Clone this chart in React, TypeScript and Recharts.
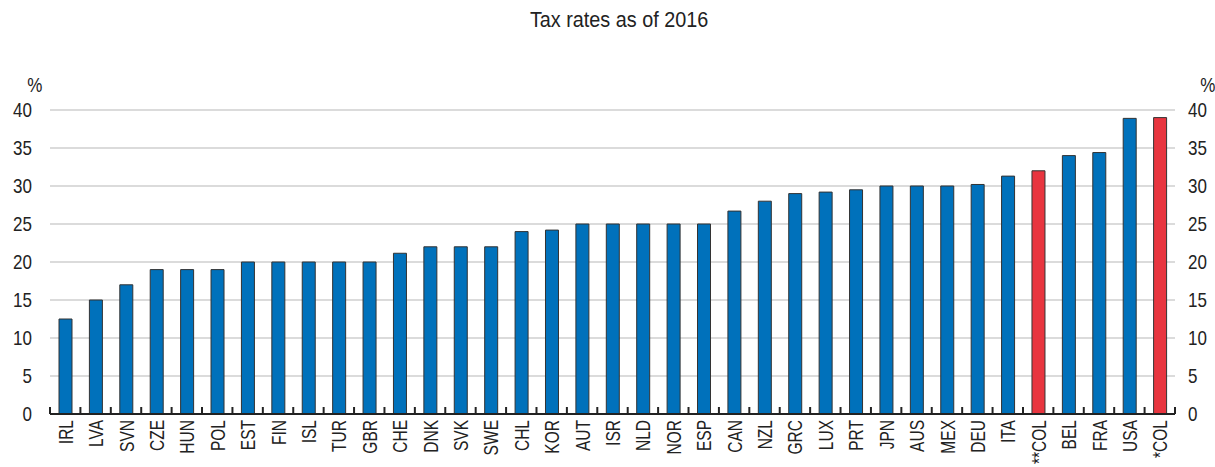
import React from "react";
import { BarChart, Bar, XAxis, YAxis, CartesianGrid, Cell } from "recharts";

const categories = ["IRL","LVA","SVN","CZE","HUN","POL","EST","FIN","ISL","TUR","GBR","CHE","DNK","SVK","SWE","CHL","KOR","AUT","ISR","NLD","NOR","ESP","CAN","NZL","GRC","LUX","PRT","JPN","AUS","MEX","DEU","ITA","**COL","BEL","FRA","USA","*COL"];
const values = [12.5,15,17,19,19,19,20,20,20,20,20,21.15,22,22,22,24,24.2,25,25,25,25,25,26.7,28,29,29.2,29.5,30,30,30,30.2,31.3,32,34,34.4,38.9,39];
const highlighted = ["**COL", "*COL"];
const yTicks = [0,5,10,15,20,25,30,35,40];

const data = categories.map((c, i) => ({ name: c, value: values[i] }));

const FONT = "'Liberation Sans', Arial, sans-serif";
const BLUE = "#0071bb";
const RED = "#e8353f";
const TEXT = "#222";

function CatTick(props: any) {
  const { x, y, payload, index } = props;
  const half = payload && typeof payload.offset === "number" && payload.offset > 0 ? payload.offset : 1125 / categories.length / 2;
  return (
    <g>
      <line x1={x - half} x2={x - half} y1={y - 7} y2={y} stroke={TEXT} strokeWidth={2} />
      {index === categories.length - 1 && (
        <line x1={x + half} x2={x + half} y1={y - 7} y2={y} stroke={TEXT} strokeWidth={2} />
      )}
      <text
        transform={`translate(${x},${y + 6}) rotate(-90) scale(0.74,1)`}
        textAnchor="end"
        dy="0.36em"
        fill={TEXT}
        fontSize={21}
        fontFamily={FONT}
      >
        {payload.value}
      </text>
    </g>
  );
}

function NumTick(props: any) {
  const { x, y, payload, anchor } = props;
  return (
    <text
      transform={`translate(${x},${y}) scale(0.85,1)`}
      textAnchor={anchor}
      dy="0.36em"
      fill={TEXT}
      fontSize={20}
      fontFamily={FONT}
    >
      {payload.value}
    </text>
  );
}

export default function App() {
  return (
    <div style={{ position: "absolute", left: 0, top: 0, width: 1215, height: 467, background: "#fff", fontFamily: FONT, color: TEXT, overflow: "hidden" }}>
      <div style={{ position: "absolute", left: 12, width: 1215, top: 7, textAlign: "center", fontSize: 22, lineHeight: "26px" }}>
        <span style={{ display: "inline-block", transform: "scaleX(0.9)" }}>Tax rates as of 2016</span>
      </div>
      <div style={{ position: "absolute", left: 26, top: 74, fontSize: 20, lineHeight: "22px", transform: "scaleX(0.85)" }}>%</div>
      <div style={{ position: "absolute", left: 1199, top: 74, fontSize: 20, lineHeight: "22px", transform: "scaleX(0.85)" }}>%</div>
      <BarChart width={1215} height={467} data={data} margin={{ top: 110, right: 0, left: 0, bottom: 3 }} barSize={13}>
        <CartesianGrid yAxisId="left" vertical={false} stroke="#cfcfcf" strokeWidth={1.5} />
        <XAxis
          dataKey="name"
          interval={0}
          height={50}
          tickLine={false}
          tickSize={0}
          tickMargin={0}
          axisLine={{ stroke: TEXT, strokeWidth: 2 }}
          tick={<CatTick />}
        />
        <YAxis
          yAxisId="left"
          orientation="left"
          width={50}
          domain={[0, 40]}
          ticks={yTicks}
          axisLine={false}
          tickLine={false}
          tickSize={0}
          tickMargin={18}
          tick={<NumTick anchor="end" />}
        />
        <YAxis
          yAxisId="right"
          orientation="right"
          width={40}
          domain={[0, 40]}
          ticks={yTicks}
          axisLine={false}
          tickLine={false}
          tickSize={0}
          tickMargin={13}
          tick={<NumTick anchor="start" />}
          allowDataOverflow
        />
        <Bar yAxisId="left" dataKey="value" stroke="#333" strokeWidth={1} isAnimationActive={false}>
          {data.map((d) => (
            <Cell key={d.name} fill={highlighted.includes(d.name) ? RED : BLUE} />
          ))}
        </Bar>
      </BarChart>
    </div>
  );
}
